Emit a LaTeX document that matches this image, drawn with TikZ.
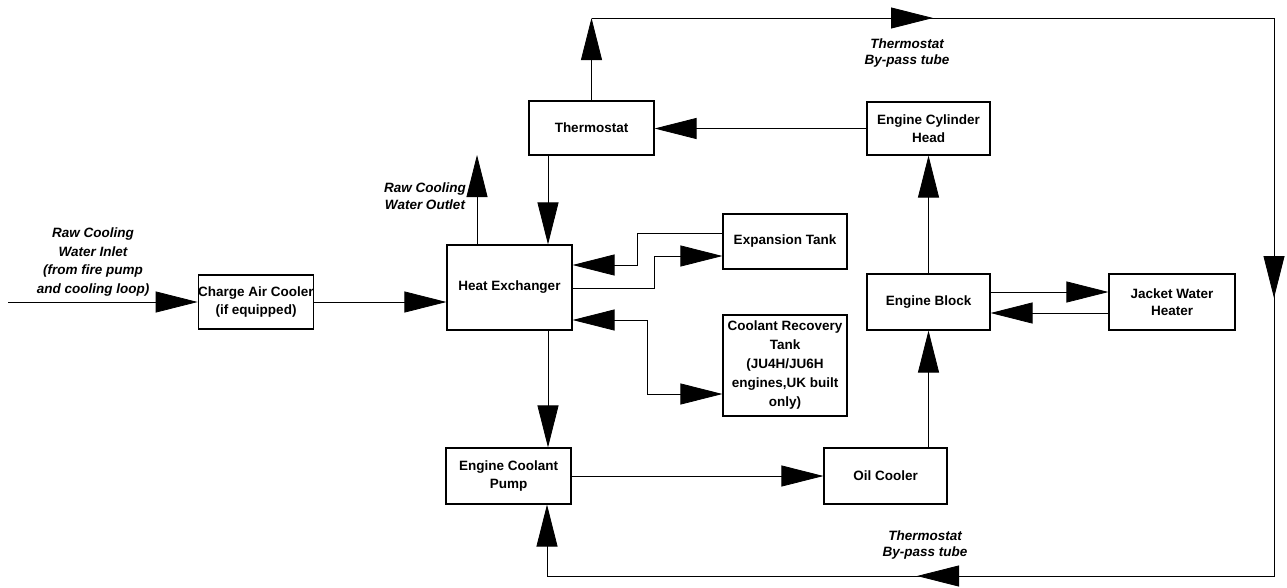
\documentclass[tikz,border=0pt]{standalone}
\usepackage{fontspec}
\setmainfont{Liberation Sans}
\usetikzlibrary{arrows.meta,decorations.markings}
\tikzset{
  box/.style={draw, line width=1.1pt, inner sep=0pt, align=center,
    font=\fontsize{13.5}{17.5}\selectfont\bfseries},
  lbl/.style={inner sep=0pt, align=center,
    font=\fontsize{13.5}{17}\selectfont\bfseries\itshape},
  tri/.tip={Triangle[length=42pt,width=21pt]},
  flow/.style={line width=0.8pt, -tri},
  biflow/.style={line width=0.8pt, tri-tri},
  bypass/.style={line width=0.8pt, postaction={decorate}, decoration={markings,
    mark=at position 341.5pt with {\arrow{tri}},
    mark=at position 962.5pt with {\arrow{tri}},
    mark=at position 1597.5pt with {\arrow{tri}}}}
}
\begin{document}
\begin{tikzpicture}[x=1pt,y=-1pt]
\useasboundingbox (0,0) rectangle (1287,587);
% boxes
\node[box, minimum width=112pt, minimum height=54pt] (cac) at (256,302) {Charge Air Cooler\\(if equipped)};
\node[box, minimum width=125pt, minimum height=85pt] (he) at (509.5,287.5) {Heat Exchanger};
\node[box, minimum width=125pt, minimum height=54pt] (th) at (591.5,128) {Thermostat};
\node[box, minimum width=123pt, minimum height=53pt] (ech) at (928.5,128.5) {Engine Cylinder\\Head};
\node[box, minimum width=124pt, minimum height=55pt] (exp) at (785,241.5) {Expansion Tank};
\node[box, minimum width=124pt, minimum height=101pt, font=\fontsize{13.5}{19}\selectfont\bfseries] (crt) at (785,365.5) {Coolant Recovery\\Tank\\(JU4H/JU6H\\engines,UK built\\only)};
\node[box, minimum width=123pt, minimum height=56pt] (eb) at (928.5,302) {Engine Block};
\node[box, minimum width=126pt, minimum height=56pt] (jwh) at (1172,302) {Jacket Water\\Heater};
\node[box, minimum width=125pt, minimum height=56pt] (pump) at (508.5,476) {Engine Coolant\\Pump};
\node[box, minimum width=123pt, minimum height=56pt] (oil) at (885.5,476) {Oil Cooler};
% labels
\node[lbl, font=\fontsize{13.5}{18.5}\selectfont\bfseries\itshape] (inlbl) at (93,262) {Raw Cooling\\Water Inlet\\(from fire pump\\and cooling loop)};
\node[lbl] (outlbl) at (425,196) {Raw Cooling\\Water Outlet};
\node[lbl, font=\fontsize{13.5}{16}\selectfont\bfseries\itshape] (toplbl) at (907,53) {Thermostat\\By-pass tube};
\node[lbl, font=\fontsize{13.5}{15.5}\selectfont\bfseries\itshape] (botlbl) at (925,545) {Thermostat\\By-pass tube};
% coordinates
\coordinate (in) at (8,302);
\coordinate (outlet) at (477,155);
\coordinate (x548) at (548,0);
\coordinate (tl) at (591.5,18);
\coordinate (tr) at (1274,18);
\coordinate (br) at (1274,576);
\coordinate (bl) at (547,576);
\coordinate (j1) at (637,265);
\coordinate (j2) at (654,256);
\coordinate (j3) at (647,320);
\coordinate (j4) at (647,394);
% connectors
\draw[flow] (in) -- (cac.west);
\draw[flow] (cac.east) -- (cac.east -| he.west);
\draw[flow] (outlet |- he.north) -- (outlet);
\draw[flow] (x548 |- th.south) -- (x548 |- he.north);
\draw[flow] (th.north) -- (tl);
\draw[bypass] (tl) -- (tr) -- (br) -- (bl);
\draw[flow] (bl) -- (bl |- pump.south);
\draw[flow] (ech.west) -- (ech.west -| th.east);
\draw[flow] ([yshift=8.5pt]exp.west) -| (j1) -- (j1 -| he.east);
\draw[flow] ([yshift=-0.5pt]he.east) -| (j2) -- (j2 -| exp.west);
\draw[biflow] (j3 -| he.east) -- (j3) -- (j4) -- (j4 -| crt.west);
\draw[flow] (x548 |- he.south) -- (x548 |- pump.north);
\draw[flow] (pump.east) -- (oil.west);
\draw[flow] (oil.north -| eb.south) -- (eb.south);
\draw[flow] (eb.north) -- (ech.south);
\draw[flow] ([yshift=10pt]eb.east) -- ([yshift=10pt]jwh.west);
\draw[flow] ([yshift=-11pt]jwh.west) -- ([yshift=-11pt]eb.east);
\end{tikzpicture}
\end{document}
